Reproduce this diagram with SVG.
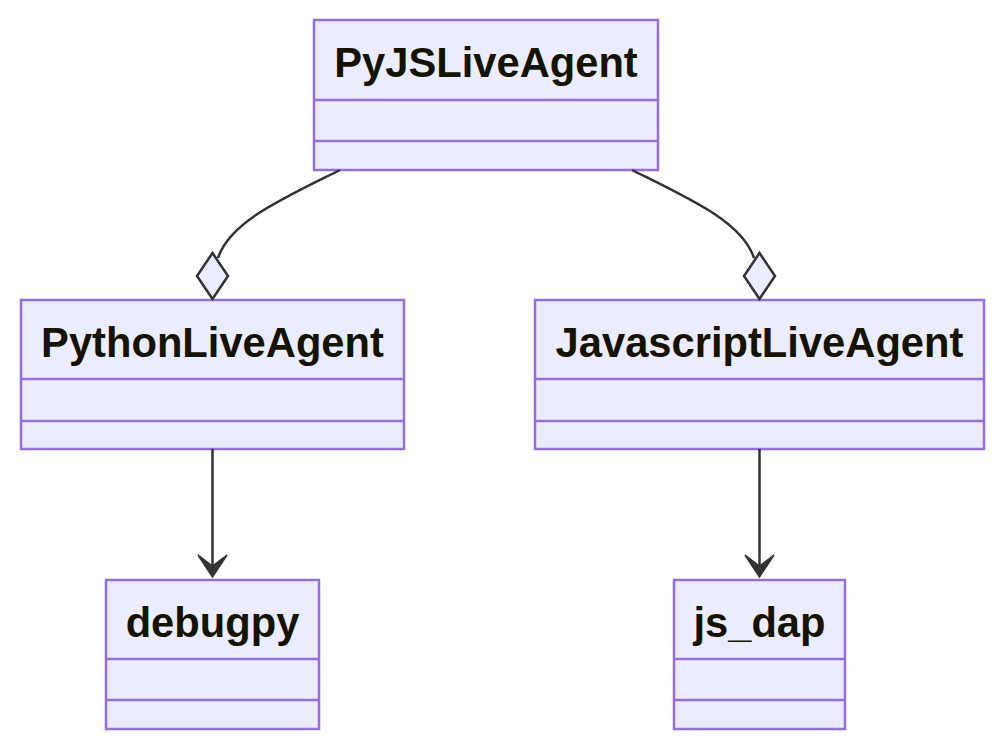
<svg xmlns="http://www.w3.org/2000/svg" width="1005" height="750" viewBox="0 0 1005 750">
<style>
.box{fill:#ECECFF;stroke:#9370DB;stroke-width:2.5}
.div{stroke:#9370DB;stroke-width:2.5}
.t{font-family:"Liberation Sans",Arial,sans-serif;font-weight:bold;font-size:41.7px;fill:#131300;text-anchor:middle}
.edge{fill:none;stroke:#333333;stroke-width:2.5}
.dia{fill:#ECECFF;stroke:#333333;stroke-width:2.5}
.arr{fill:#333333;stroke:#333333;stroke-width:1.5;stroke-linejoin:miter}
</style>
<rect width="1005" height="750" fill="#ffffff"/>
<g id="PyJSLiveAgent">
<rect class="box" x="314" y="20" width="344" height="150"/>
<line class="div" x1="314" y1="100" x2="658" y2="100"/>
<line class="div" x1="314" y1="141" x2="658" y2="141"/>
<text class="t" x="486" y="77">PyJSLiveAgent</text>
</g>
<g id="PythonLiveAgent">
<rect class="box" x="21" y="300" width="383" height="149"/>
<line class="div" x1="21" y1="379" x2="404" y2="379"/>
<line class="div" x1="21" y1="421" x2="404" y2="421"/>
<text class="t" x="212.5" y="357">PythonLiveAgent</text>
</g>
<g id="JavascriptLiveAgent">
<rect class="box" x="535" y="300" width="449" height="149"/>
<line class="div" x1="535" y1="379" x2="984" y2="379"/>
<line class="div" x1="535" y1="421" x2="984" y2="421"/>
<text class="t" x="759.5" y="357">JavascriptLiveAgent</text>
</g>
<g id="debugpy">
<rect class="box" x="106" y="580" width="213" height="149"/>
<line class="div" x1="106" y1="659" x2="319" y2="659"/>
<line class="div" x1="106" y1="700" x2="319" y2="700"/>
<text class="t" x="212.5" y="637">debugpy</text>
</g>
<g id="js_dap">
<rect class="box" x="674" y="580" width="171" height="149"/>
<line class="div" x1="674" y1="659" x2="845" y2="659"/>
<line class="div" x1="674" y1="700" x2="845" y2="700"/>
<text class="t" x="759.5" y="637">js_dap</text>
</g>
<g id="connectors">
<path class="edge" d="M340,170 C280,200 230,222 218,258"/>
<polygon class="dia" points="212.5,253 228,276 212.5,299 197,276"/>
<path class="edge" d="M632,170 C692,200 742,222 754,258"/>
<polygon class="dia" points="759.5,253 775,276 759.5,299 744,276"/>
<line class="edge" x1="212.5" y1="449" x2="212.5" y2="572"/>
<polygon class="arr" points="212.5,577 198,555 212.5,566 227,555"/>
<line class="edge" x1="759.5" y1="449" x2="759.5" y2="572"/>
<polygon class="arr" points="759.5,577 745,555 759.5,566 774,555"/>
</g>
</svg>
